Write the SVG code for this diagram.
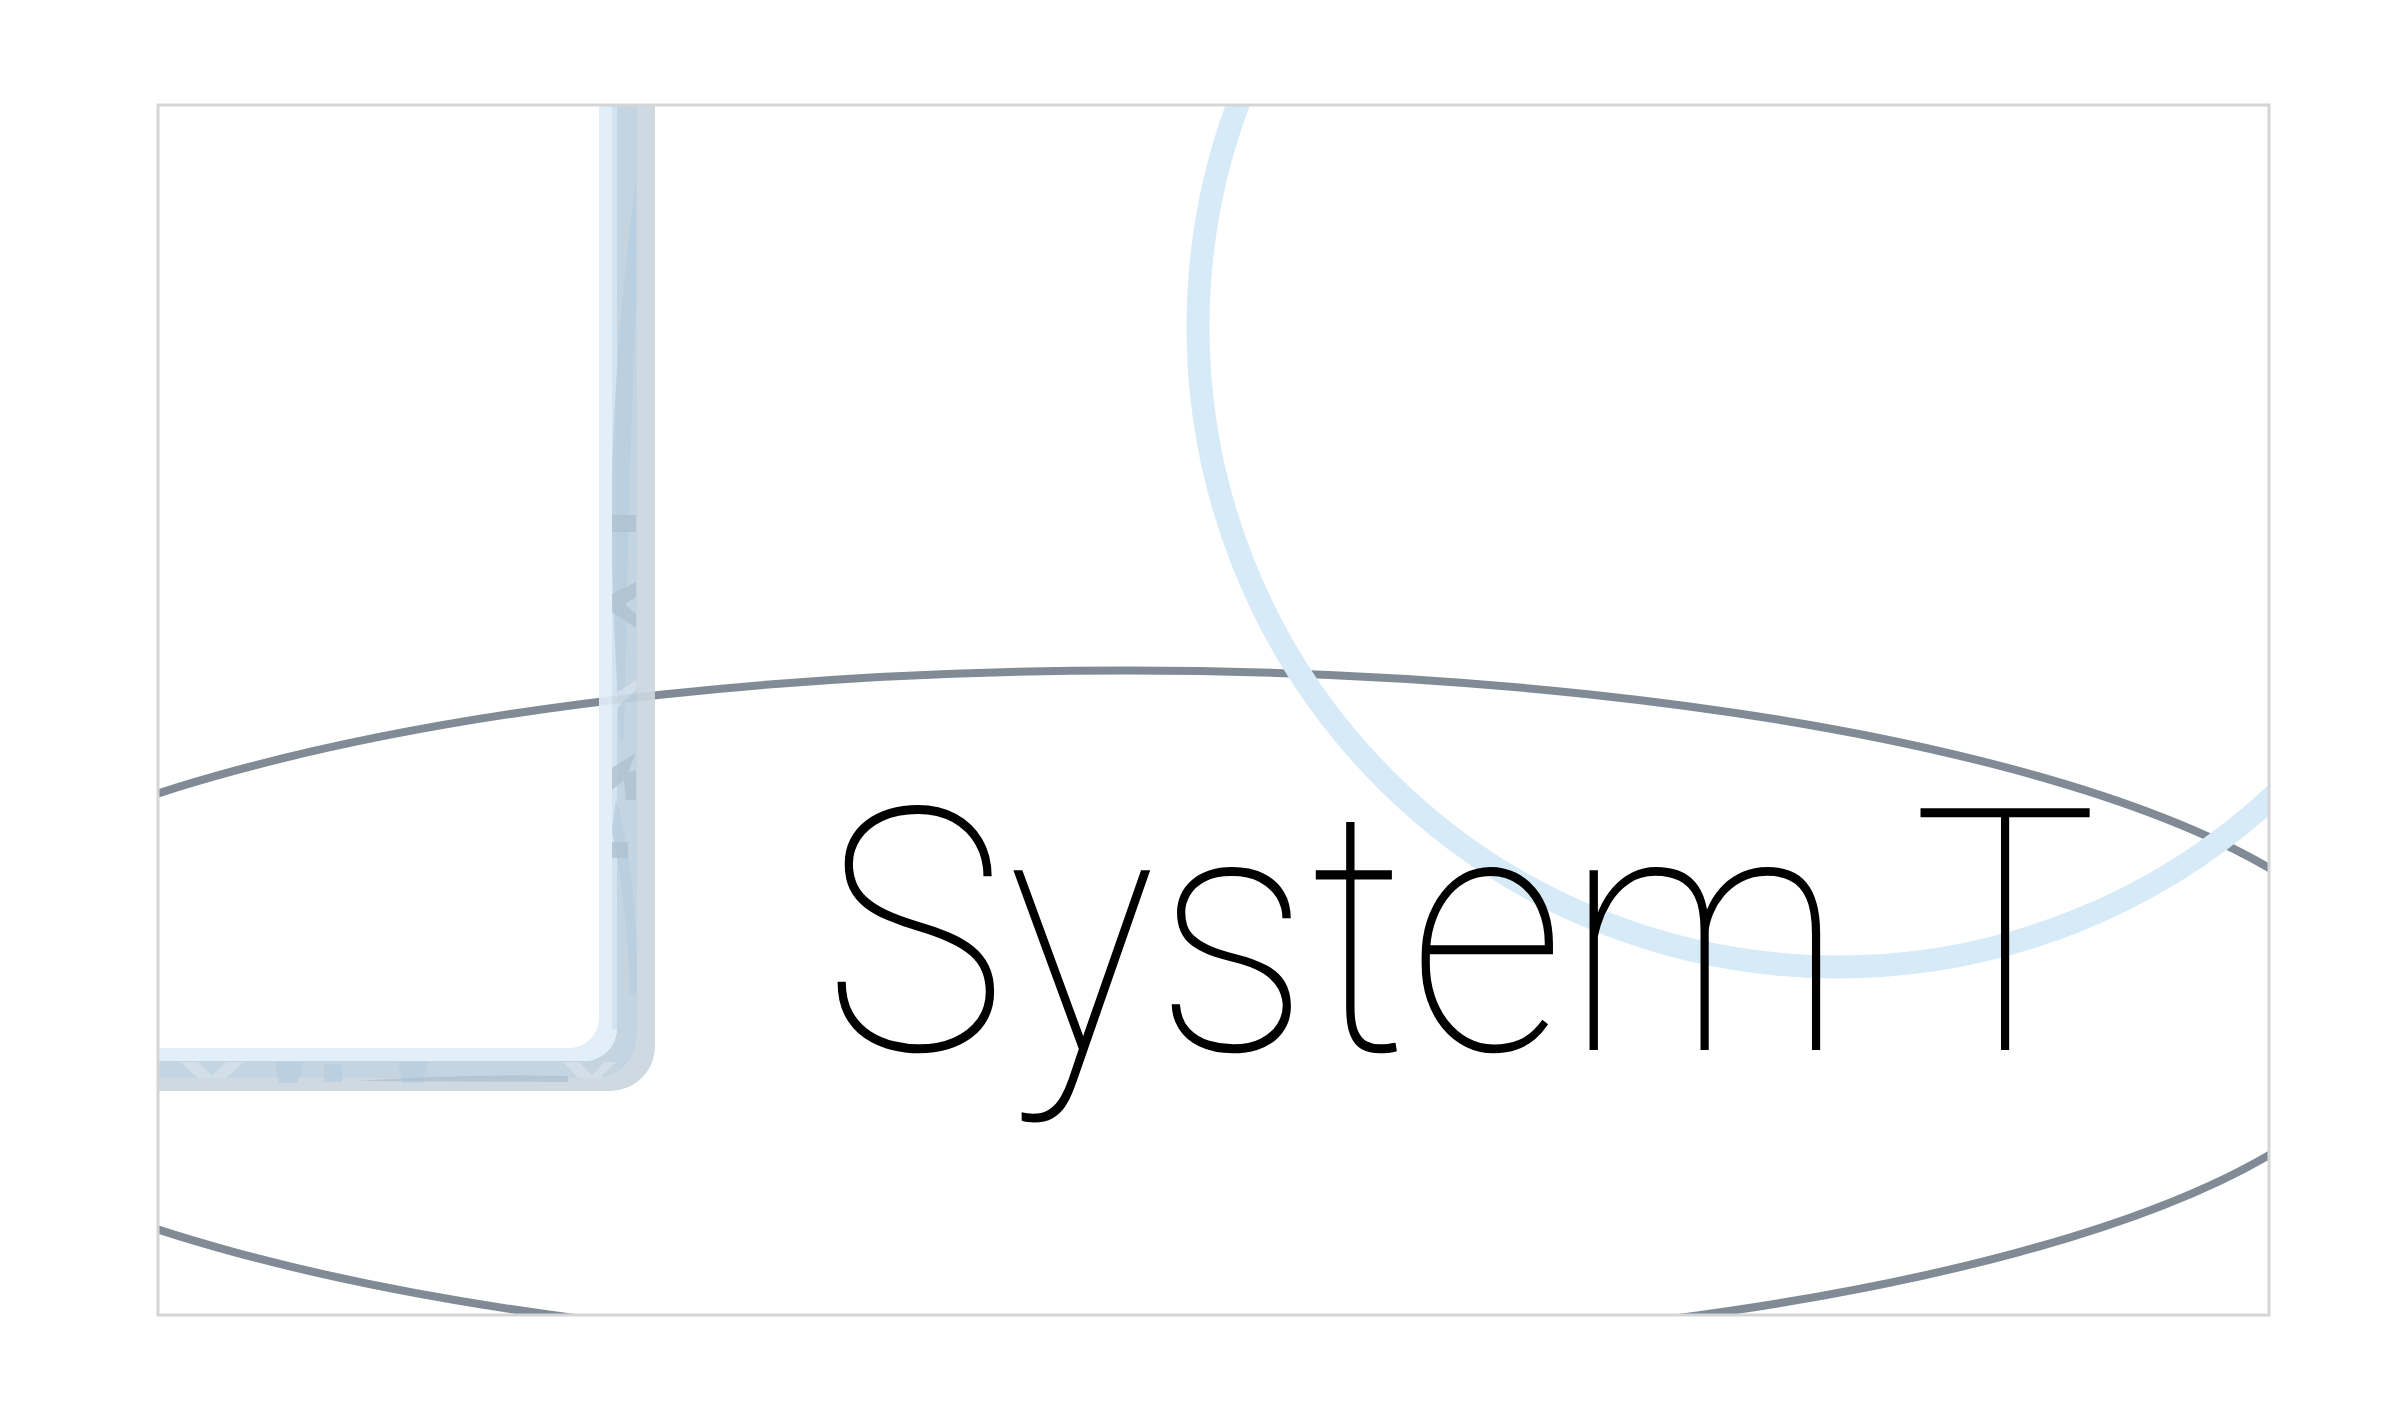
<svg xmlns="http://www.w3.org/2000/svg" width="2394" height="1403" viewBox="0 0 2394 1403">
<style>
.band{fill-rule:evenodd;stroke:none}
.mark{fill:#a9bdcc;opacity:0.8}
.dark{fill:#b3cbde;opacity:0.85}
.lite{fill:#d3e0ea;opacity:0.8}
.title{font-family:Roboto,"Noto Sans",sans-serif;font-weight:100;font-size:340px;fill:#000}
</style>
<defs>
<clipPath id="frameClip"><rect x="158" y="105" width="2111" height="1210"/></clipPath>
</defs>
<rect x="0" y="0" width="2394" height="1403" fill="#ffffff"/>
<g clip-path="url(#frameClip)">
  <g id="connectors">
    <ellipse id="orbit" cx="1126.5" cy="1011.5" rx="1259.5" ry="341" fill="none" stroke="#808b96" stroke-width="8"/>
  </g>
  <g id="circle-node">
    <circle cx="1838" cy="327" r="640" fill="none" stroke="#d6eaf8" stroke-width="23"/>
  </g>
  <g id="panel-node" opacity="0.92">
    <path class="band" fill="#ccd6df" d="M100 50 H655 V1046 A45 45 0 0 1 610 1091 H100 Z M100 50 H637 V1038 A40 40 0 0 1 597 1078 H100 Z"/>
    <path class="band" fill="#bfd2df" d="M100 50 H637 V1038 A40 40 0 0 1 597 1078 H100 Z M100 50 H617 V1028 A33 33 0 0 1 584 1061 H100 Z"/>
    <path class="band" fill="#e0edf8" d="M100 50 H617 V1028 A33 33 0 0 1 584 1061 H100 Z M100 50 H599 V1018 A30 30 0 0 1 569 1048 H100 Z"/>
    <rect x="612" y="100" width="5" height="930" fill="#cfe1f1"/>
    <path class="dark" d="M636 180 C625 260 614 380 612 480 L612 560 C614 640 618 700 620 740 L624 740 C626 620 630 450 636 300 Z"/>
    <path class="dark" d="M616 800 C630 850 637 900 637 995 L630 995 C628 930 622 880 612 830 Z"/>
    <rect class="mark" x="612" y="515" width="24" height="17"/>
    <rect class="mark" x="612" y="842" width="16" height="16"/>
    <polygon class="mark" points="636,582 612,594 612,612 636,628 636,614 625,604 636,597"/>
    <polygon class="mark" points="636,753 612,768 612,790 624,780 626,800 636,800 636,770 628,772"/>
    <polygon class="lite" points="613,695 636,680 636,690 613,712"/>
    <polygon class="dark" points="275,1062 303,1062 298,1083 279,1083"/>
    <rect class="dark" x="324" y="1064" width="18" height="18"/>
    <polygon class="dark" points="398,1062 427,1062 423,1083 403,1083"/>
    <path class="mark" d="M357 1081 Q460 1074 568 1076 L568 1082 Z"/>
    <polygon class="lite" points="180,1062 198,1062 212,1076 226,1062 244,1062 226,1078 198,1078"/>
    <polygon class="lite" points="563,1062 580,1062 592,1076 604,1062 616,1062 600,1078 578,1078"/>
  </g>
  <g id="title-node">
    <text class="title" x="823" y="1050" textLength="1275" lengthAdjust="spacingAndGlyphs">System T</text>
  </g>
</g>
<rect id="frame" x="158" y="105" width="2111" height="1210" fill="none" stroke="#d5d5d5" stroke-width="3"/>
</svg>
